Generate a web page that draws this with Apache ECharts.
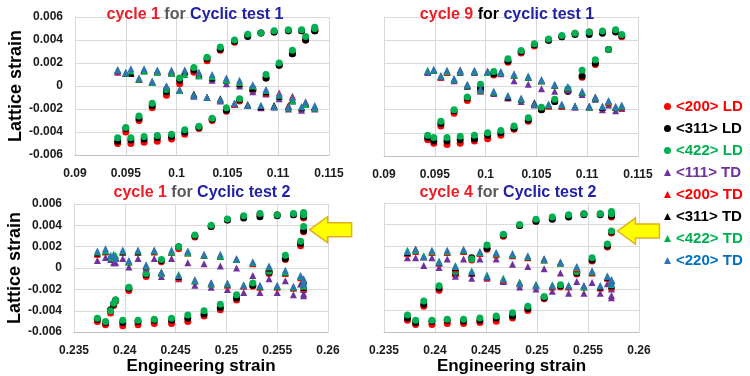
<!DOCTYPE html>
<html>
<head>
<meta charset="utf-8">
<script src="https://cdn.jsdelivr.net/npm/echarts/dist/echarts.min.js"></script>
<style>html,body{margin:0;padding:0;background:#fff}#main{width:750px;height:376px}</style>
</head>
<body>
<div id="main"></div>
<script>
// cycle 1, cyclic test 1 (loading branch then unloading branch)
var t1c1_x = [0.0942,0.0955,0.0968,0.0981,0.0995,0.1008,0.1022,0.1035,0.1049,0.1062,0.1075,0.1088,0.1101,0.1114,0.1127,0.1136,
  0.1136,0.1123,0.1110,0.1096,0.1083,0.1070,0.1057,0.1043,0.1030,0.1017,0.1003,0.0990,0.0976,0.0963,0.0950];
var t1c1_200LD = [-0.0050,-0.0050,-0.0049,-0.0048,-0.0046,-0.0042,-0.0037,-0.0030,-0.0022,-0.0013,-0.0004,0.0007,0.0018,0.0028,0.0040,0.0048,
  0.0049,0.0048,0.0048,0.0047,0.0046,0.0044,0.0038,0.0031,0.0022,0.0012,0.0002,-0.0008,-0.0019,-0.0030,-0.0040];
var t1c1_311LD = [-0.0048,-0.0047,-0.0046,-0.0045,-0.0044,-0.0040,-0.0036,-0.0029,-0.0021,-0.0012,-0.0003,0.0007,0.0018,0.0028,0.0040,0.0048,
  0.0048,0.0048,0.0048,0.0047,0.0046,0.0043,0.0039,0.0032,0.0024,0.0014,0.0005,-0.0005,-0.0017,-0.0028,-0.0037];
var t1c1_422LD = [-0.0045,-0.0045,-0.0044,-0.0043,-0.0042,-0.0038,-0.0035,-0.0028,-0.0019,-0.0011,-0.0002,0.0010,0.0020,0.0031,0.0043,0.0050,
  0.0051,0.0049,0.0049,0.0048,0.0046,0.0045,0.0040,0.0034,0.0025,0.0016,0.0007,-0.0003,-0.0015,-0.0026,-0.0036];
var t1c1_111TD = [0.0012,0.0012,0.0013,0.0012,0.0011,0.0012,0.0009,0.0005,0.0002,0.0000,-0.0005,-0.0007,-0.0011,-0.0013,-0.0016,-0.0019,
  -0.0020,-0.0021,-0.0020,-0.0018,-0.0019,-0.0017,-0.0016,-0.0013,-0.0010,-0.0009,-0.0004,-0.0001,0.0003,0.0006,0.0011];
var t1c1_200TD = [0.0013,0.0011,0.0014,0.0013,0.0013,0.0013,0.0011,0.0008,0.0006,0.0003,-0.0002,-0.0006,-0.0006,-0.0009,-0.0014,-0.0018,
  -0.0019,-0.0019,-0.0017,-0.0018,-0.0018,-0.0017,-0.0016,-0.0012,-0.0010,-0.0008,-0.0004,0.0000,0.0003,0.0006,0.0011];
var t1c1_311TD = [0.0014,0.0011,0.0014,0.0013,0.0012,0.0013,0.0010,0.0007,0.0005,0.0002,-0.0002,-0.0005,-0.0009,-0.0012,-0.0015,-0.0018,
  -0.0018,-0.0019,-0.0018,-0.0017,-0.0018,-0.0016,-0.0015,-0.0011,-0.0010,-0.0007,-0.0004,-0.0001,0.0004,0.0006,0.0011];
var t1c1_422TD = [0.0014,0.0013,0.0013,0.0012,0.0011,0.0010,0.0009,0.0008,0.0005,0.0003,0.0000,-0.0004,-0.0008,-0.0013,-0.0016,-0.0019,
  -0.0019,-0.0018,-0.0019,-0.0018,-0.0017,-0.0017,-0.0015,-0.0012,-0.0010,-0.0008,-0.0004,-0.0001,0.0003,0.0006,0.0011];
var t1c1_220TD = [0.0014,0.0015,0.0015,0.0014,0.0014,0.0014,0.0012,0.0010,0.0007,0.0005,0.0001,-0.0003,-0.0007,-0.0010,-0.0014,-0.0017,
  -0.0018,-0.0018,-0.0018,-0.0018,-0.0017,-0.0017,-0.0015,-0.0012,-0.0010,-0.0008,-0.0003,0.0000,0.0004,0.0007,0.0012];

// cycle 9, cyclic test 1
var t1c9_x = [0.0943,0.0949,0.0962,0.0975,0.0989,0.1002,0.1015,0.1028,0.1042,0.1055,0.1068,0.1081,0.1095,0.1108,0.1121,0.1134,
  0.1128,0.1115,0.1102,0.1088,0.1075,0.1062,0.1048,0.1035,0.1022,0.1008,0.0995,0.0982,0.0969,0.0956];
var t1c9_200LD = [-0.0046,-0.0049,-0.0050,-0.0049,-0.0047,-0.0045,-0.0042,-0.0037,-0.0030,-0.0020,-0.0013,-0.0004,0.0008,0.0019,0.0032,0.0043,
  0.0048,0.0047,0.0047,0.0046,0.0043,0.0040,0.0035,0.0029,0.0021,0.0010,-0.0003,-0.0012,-0.0023,-0.0034];
var t1c9_311LD = [-0.0044,-0.0047,-0.0047,-0.0046,-0.0045,-0.0042,-0.0040,-0.0036,-0.0029,-0.0020,-0.0013,-0.0004,0.0009,0.0020,0.0032,0.0044,
  0.0047,0.0046,0.0045,0.0045,0.0043,0.0040,0.0036,0.0030,0.0022,0.0011,-0.0001,-0.0010,-0.0021,-0.0032];
var t1c9_422LD = [-0.0042,-0.0044,-0.0044,-0.0043,-0.0042,-0.0040,-0.0038,-0.0034,-0.0027,-0.0018,-0.0011,-0.0002,0.0014,0.0023,0.0032,0.0045,
  0.0049,0.0048,0.0047,0.0046,0.0044,0.0041,0.0037,0.0031,0.0024,0.0013,0.0002,-0.0009,-0.0020,-0.0030];
var t1c9_111TD = [0.0012,0.0014,0.0013,0.0012,0.0012,0.0012,0.0011,0.0005,0.0002,-0.0002,-0.0004,-0.0003,-0.0007,-0.0011,-0.0016,-0.0019,
  -0.0021,-0.0020,-0.0018,-0.0018,-0.0017,-0.0016,-0.0016,-0.0013,-0.0010,-0.0006,-0.0004,0.0000,0.0005,0.0008];
var t1c9_200TD = [0.0013,0.0014,0.0012,0.0013,0.0013,0.0013,0.0012,0.0010,0.0008,0.0005,0.0001,-0.0001,-0.0005,-0.0009,-0.0014,-0.0018,
  -0.0018,-0.0018,-0.0018,-0.0017,-0.0017,-0.0017,-0.0015,-0.0011,-0.0009,-0.0005,-0.0003,0.0001,0.0006,0.0008];
var t1c9_311TD = [0.0013,0.0014,0.0013,0.0014,0.0013,0.0013,0.0012,0.0010,0.0008,0.0005,0.0001,-0.0001,-0.0005,-0.0010,-0.0013,-0.0017,
  -0.0018,-0.0018,-0.0017,-0.0017,-0.0016,-0.0016,-0.0014,-0.0011,-0.0009,-0.0005,-0.0002,0.0001,0.0006,0.0009];
var t1c9_422TD = [0.0014,0.0014,0.0013,0.0013,0.0013,0.0012,0.0012,0.0010,0.0008,0.0005,0.0001,-0.0001,-0.0005,-0.0010,-0.0013,-0.0017,
  -0.0018,-0.0017,-0.0018,-0.0017,-0.0016,-0.0016,-0.0015,-0.0011,-0.0008,-0.0005,-0.0003,0.0001,0.0006,0.0009];
var t1c9_220TD = [0.0013,0.0015,0.0014,0.0014,0.0014,0.0013,0.0013,0.0011,0.0009,0.0006,0.0002,0.0000,-0.0004,-0.0009,-0.0012,-0.0016,
  -0.0017,-0.0017,-0.0017,-0.0017,-0.0015,-0.0015,-0.0015,-0.0010,-0.0008,-0.0004,-0.0002,0.0002,0.0007,0.0009];

// cycle 1, cyclic test 2
var t2c1_x = [0.2373,0.2381,0.2398,0.2413,0.2429,0.2446,0.2462,0.2478,0.2494,0.2510,0.2526,0.2542,0.2558,0.2573,0.2576,0.2576,
  0.2576,0.2566,0.2550,0.2533,0.2517,0.2501,0.2485,0.2469,0.2453,0.2436,0.2421,0.2404,0.2391,0.2389,0.2386];
var t2c1_200LD = [-0.0050,-0.0053,-0.0054,-0.0053,-0.0052,-0.0052,-0.0050,-0.0045,-0.0039,-0.0030,-0.0017,-0.0005,0.0008,0.0021,0.0034,0.0047,
  0.0050,0.0050,0.0050,0.0050,0.0048,0.0045,0.0039,0.0029,0.0018,0.0006,-0.0008,-0.0021,-0.0031,-0.0035,-0.0042];
var t2c1_311LD = [-0.0048,-0.0051,-0.0051,-0.0050,-0.0049,-0.0049,-0.0047,-0.0043,-0.0037,-0.0028,-0.0016,-0.0004,0.0009,0.0023,0.0035,0.0048,
  0.0050,0.0050,0.0049,0.0048,0.0047,0.0045,0.0039,0.0030,0.0020,0.0007,-0.0006,-0.0019,-0.0030,-0.0034,-0.0039];
var t2c1_422LD = [-0.0047,-0.0050,-0.0049,-0.0049,-0.0048,-0.0047,-0.0044,-0.0040,-0.0034,-0.0025,-0.0014,-0.0003,0.0012,0.0025,0.0039,0.0050,
  0.0052,0.0051,0.0050,0.0051,0.0049,0.0046,0.0040,0.0031,0.0020,0.0008,-0.0005,-0.0018,-0.0030,-0.0033,-0.0040];
var t2c1_111TD = [0.0007,0.0010,0.0009,0.0009,0.0009,0.0009,0.0005,0.0004,0.0002,0.0000,-0.0007,-0.0010,-0.0012,-0.0015,-0.0020,-0.0024,
  -0.0026,-0.0025,-0.0023,-0.0023,-0.0023,-0.0020,-0.0018,-0.0016,-0.0010,-0.0008,0.0000,0.0001,0.0005,0.0005,0.0008];
var t2c1_200TD = [0.0013,0.0015,0.0015,0.0015,0.0015,0.0015,0.0014,0.0012,0.0011,0.0008,0.0004,0.0000,-0.0005,-0.0009,-0.0012,-0.0018,
  -0.0019,-0.0019,-0.0018,-0.0018,-0.0017,-0.0016,-0.0015,-0.0012,-0.0009,-0.0005,0.0002,0.0006,0.0009,0.0011,0.0010];
var t2c1_311TD = [0.0014,0.0016,0.0015,0.0015,0.0016,0.0015,0.0015,0.0012,0.0011,0.0008,0.0005,0.0000,-0.0004,-0.0008,-0.0012,-0.0016,
  -0.0018,-0.0018,-0.0017,-0.0017,-0.0016,-0.0015,-0.0014,-0.0012,-0.0008,-0.0004,0.0002,0.0006,0.0010,0.0011,0.0011];
var t2c1_422TD = [0.0015,0.0016,0.0016,0.0016,0.0016,0.0015,0.0014,0.0012,0.0011,0.0008,0.0005,0.0001,-0.0004,-0.0008,-0.0011,-0.0015,
  -0.0017,-0.0018,-0.0017,-0.0017,-0.0016,-0.0015,-0.0015,-0.0012,-0.0006,-0.0005,0.0002,0.0006,0.0012,0.0013,0.0010];
var t2c1_220TD = [0.0016,0.0018,0.0017,0.0017,0.0017,0.0017,0.0016,0.0013,0.0013,0.0009,0.0006,0.0002,-0.0002,-0.0007,-0.0010,-0.0013,
  -0.0015,-0.0017,-0.0016,-0.0016,-0.0016,-0.0014,-0.0014,-0.0011,-0.0007,-0.0004,0.0003,0.0007,0.0009,0.0012,0.0012];

// cycle 4, cyclic test 2
var t2c4_x = [0.2373,0.2381,0.2397,0.2412,0.2428,0.2444,0.2460,0.2476,0.2491,0.2507,0.2523,0.2539,0.2554,0.2569,0.2573,0.2573,
  0.2573,0.2562,0.2546,0.2531,0.2515,0.2499,0.2483,0.2467,0.2451,0.2436,0.2420,0.2404,0.2389];
var t2c4_200LD = [-0.0049,-0.0053,-0.0053,-0.0052,-0.0052,-0.0051,-0.0050,-0.0047,-0.0040,-0.0029,-0.0018,-0.0006,0.0006,0.0019,0.0032,0.0047,
  0.0050,0.0050,0.0050,0.0048,0.0046,0.0043,0.0039,0.0029,0.0017,0.0007,-0.0007,-0.0021,-0.0036];
var t2c4_311LD = [-0.0047,-0.0051,-0.0050,-0.0049,-0.0050,-0.0049,-0.0047,-0.0045,-0.0038,-0.0028,-0.0017,-0.0005,0.0007,0.0020,0.0033,0.0048,
  0.0049,0.0049,0.0049,0.0047,0.0045,0.0043,0.0039,0.0030,0.0018,0.0009,-0.0005,-0.0019,-0.0034];
var t2c4_422LD = [-0.0044,-0.0049,-0.0049,-0.0048,-0.0048,-0.0047,-0.0045,-0.0042,-0.0036,-0.0027,-0.0016,-0.0004,0.0009,0.0022,0.0034,0.0050,
  0.0052,0.0050,0.0050,0.0049,0.0047,0.0045,0.0040,0.0031,0.0021,0.0008,-0.0004,-0.0017,-0.0031];
var t2c4_111TD = [0.0009,0.0009,0.0009,0.0008,0.0008,0.0008,0.0008,0.0003,0.0001,-0.0001,-0.0005,-0.0013,-0.0014,-0.0015,-0.0020,-0.0028,
  -0.0026,-0.0024,-0.0024,-0.0024,-0.0022,-0.0020,-0.0018,-0.0013,-0.0010,-0.0010,-0.0008,0.0000,0.0002];
var t2c4_200TD = [0.0013,0.0015,0.0014,0.0014,0.0015,0.0013,0.0012,0.0011,0.0009,0.0007,0.0004,-0.0001,-0.0005,-0.0010,-0.0013,-0.0017,
  -0.0018,-0.0019,-0.0018,-0.0018,-0.0018,-0.0017,-0.0015,-0.0012,-0.0009,-0.0005,-0.0001,0.0004,0.0010];
var t2c4_311TD = [0.0014,0.0017,0.0015,0.0015,0.0016,0.0014,0.0013,0.0012,0.0010,0.0008,0.0005,0.0000,-0.0004,-0.0009,-0.0012,-0.0016,
  -0.0017,-0.0018,-0.0017,-0.0017,-0.0017,-0.0016,-0.0014,-0.0011,-0.0008,-0.0005,0.0000,0.0005,0.0010];
var t2c4_422TD = [0.0016,0.0016,0.0015,0.0015,0.0016,0.0014,0.0013,0.0012,0.0010,0.0007,0.0004,0.0000,-0.0004,-0.0008,-0.0012,-0.0015,
  -0.0016,-0.0017,-0.0018,-0.0017,-0.0016,-0.0016,-0.0014,-0.0010,-0.0007,-0.0003,0.0002,0.0006,0.0011];
var t2c4_220TD = [0.0015,0.0017,0.0016,0.0016,0.0017,0.0015,0.0014,0.0013,0.0011,0.0008,0.0005,0.0001,-0.0003,-0.0008,-0.0011,-0.0013,
  -0.0015,-0.0017,-0.0017,-0.0017,-0.0017,-0.0017,-0.0015,-0.0011,-0.0008,-0.0004,0.0001,0.0005,0.0010];

var seriesNames = ['<200> LD','<311> LD','<422> LD','<111> TD','<200> TD','<311> TD','<422> TD','<220> TD'];
var yTicks = [-0.006, -0.004, -0.002, 0, 0.002, 0.004, 0.006];

var font = 'Liberation Sans, Arial, sans-serif';
var looks = [
  {symbol:'circle', color:'#ff0000', text:'#ff0000'},
  {symbol:'circle', color:'#000000', text:'#000000'},
  {symbol:'circle', color:'#00b050', text:'#00b050'},
  {symbol:'triangle', color:'#7030a0', text:'#7030a0'},
  {symbol:'triangle', color:'#ff0000', text:'#ff0000'},
  {symbol:'triangle', color:'#000000', text:'#000000'},
  {symbol:'triangle', color:'#00b050', text:'#00b050'},
  {symbol:'triangle', color:'#2e75b6', text:'#0070c0'}
];

var panels = [
  {x:t1c1_x, ys:[t1c1_200LD,t1c1_311LD,t1c1_422LD,t1c1_111TD,t1c1_200TD,t1c1_311TD,t1c1_422TD,t1c1_220TD]},
  {x:t1c9_x, ys:[t1c9_200LD,t1c9_311LD,t1c9_422LD,t1c9_111TD,t1c9_200TD,t1c9_311TD,t1c9_422TD,t1c9_220TD]},
  {x:t2c1_x, ys:[t2c1_200LD,t2c1_311LD,t2c1_422LD,t2c1_111TD,t2c1_200TD,t2c1_311TD,t2c1_422TD,t2c1_220TD]},
  {x:t2c4_x, ys:[t2c4_200LD,t2c4_311LD,t2c4_422LD,t2c4_111TD,t2c4_200TD,t2c4_311TD,t2c4_422TD,t2c4_220TD]}
];

var grids = [
  {left:75, top:17, width:254, height:138},
  {left:384, top:17, width:254, height:139},
  {left:74, top:204, width:254, height:131},
  {left:384, top:203, width:255, height:131}
];
var xRanges = [[0.09,0.115],[0.09,0.115],[0.235,0.26],[0.235,0.26]];

var labelStyle = {color:'#1a1a1a', fontWeight:'bold', fontSize:12, fontFamily:font};

var xAxes = grids.map(function(g, i){
  return {
    type:'value', gridIndex:i, min:xRanges[i][0], max:xRanges[i][1], interval:0.005,
    axisLine:{show:true, onZero:false, lineStyle:{color:'#bfbfbf'}},
    axisTick:{show:false},
    splitLine:{show:true, lineStyle:{color:'#d9d9d9'}},
    axisLabel:Object.assign({margin:13, formatter:function(v){ return String(+v.toFixed(3)); }}, labelStyle),
    name: i >= 2 ? 'Engineering strain' : '',
    nameLocation:'middle', nameGap:23,
    nameTextStyle:{color:'#000', fontWeight:'bold', fontSize:17, fontFamily:font}
  };
});
var yAxes = grids.map(function(g, i){
  return {
    type:'value', gridIndex:i, min:yTicks[0], max:yTicks[yTicks.length-1], interval:0.002,
    axisLine:{show:true, onZero:false, lineStyle:{color:'#d9d9d9'}},
    axisTick:{show:false},
    splitLine:{show:true, lineStyle:{color:'#d9d9d9'}},
    axisLabel:Object.assign({show: i % 2 === 0, margin:12,
      formatter:function(v){ return Math.abs(v) < 1e-9 ? '0' : v.toFixed(3); }}, labelStyle),
    name: i % 2 === 0 ? 'Lattice strain' : '',
    nameLocation:'middle', nameGap:48, nameRotate:90,
    nameTextStyle:{color:'#000', fontWeight:'bold', fontSize:18, fontFamily:font}
  };
});

var series = [];
panels.forEach(function(p, gi){
  p.ys.forEach(function(y, k){
    series.push({
      type:'scatter', name:seriesNames[k], xAxisIndex:gi, yAxisIndex:gi,
      symbol:looks[k].symbol, symbolSize:7,
      itemStyle:{color:looks[k].color, opacity:1},
      data:p.x.map(function(v, j){ return [v, y[j]]; })
    });
  });
});

// zrender text: rich parts take fill, not color
var titleRich = {
  r:{fill:'#ee1c25', fontWeight:'bold', fontSize:16, fontFamily:font},
  g:{fill:'#595959', fontWeight:'bold', fontSize:16, fontFamily:font},
  k:{fill:'#000000', fontWeight:'bold', fontSize:16, fontFamily:font},
  b:{fill:'#2222a8', fontWeight:'bold', fontSize:16, fontFamily:font}
};
var titles = [
  {x:195, y:15, text:'{r|cycle 1 }{g|for }{b|Cyclic test 1}'},
  {x:507, y:15, text:'{r|cycle 9 }{k|for }{b|cyclic test 1}'},
  {x:202, y:193, text:'{r|cycle 1 }{g|for }{b|Cyclic test 2}'},
  {x:508, y:193, text:'{r|cycle 4 }{g|for }{b|Cyclic test 2}'}
];

var myChart = echarts.init(document.getElementById('main'));
var option = {
  backgroundColor:'#ffffff',
  animation:false,
  grid:grids,
  xAxis:xAxes,
  yAxis:yAxes,
  legend:{
    orient:'vertical', left:659, top:94, itemWidth:7, itemHeight:7, itemGap:7,
    textStyle:{fontSize:15, fontWeight:'bold', fontFamily:font},
    data:seriesNames.map(function(n, k){
      return {name:n, icon:looks[k].symbol, itemStyle:{color:looks[k].color}, textStyle:{color:looks[k].text}};
    })
  },
  series:series
};
myChart.setOption(option);

// yellow arrows pointing at the last loading point of test 2
function arrowAt(gridIndex, pt){
  var p = myChart.convertToPixel({gridIndex:gridIndex}, pt);
  var tx = p[0] + 6, ty = p[1] - 1;
  return {
    type:'polygon', z:100,
    shape:{points:[[tx,ty],[tx+18,ty-13],[tx+18,ty-7],[tx+42,ty-7],[tx+42,ty+7],[tx+18,ty+7],[tx+18,ty+13]]},
    style:{fill:'#ffff00', stroke:'#e0b020', lineWidth:1.5}
  };
}
var graphics = titles.map(function(t){
  return {type:'text', x:t.x, y:t.y, z:100,
    style:{text:t.text, rich:titleRich, align:'center', verticalAlign:'middle', fill:'#000', fontWeight:'bold', fontSize:16, fontFamily:font}};
});
graphics.push(arrowAt(2, [t2c1_x[14], t2c1_311LD[14]]));
graphics.push(arrowAt(3, [t2c4_x[14], t2c4_311LD[14]]));
myChart.setOption({graphic:graphics});
</script>
</body>
</html>
